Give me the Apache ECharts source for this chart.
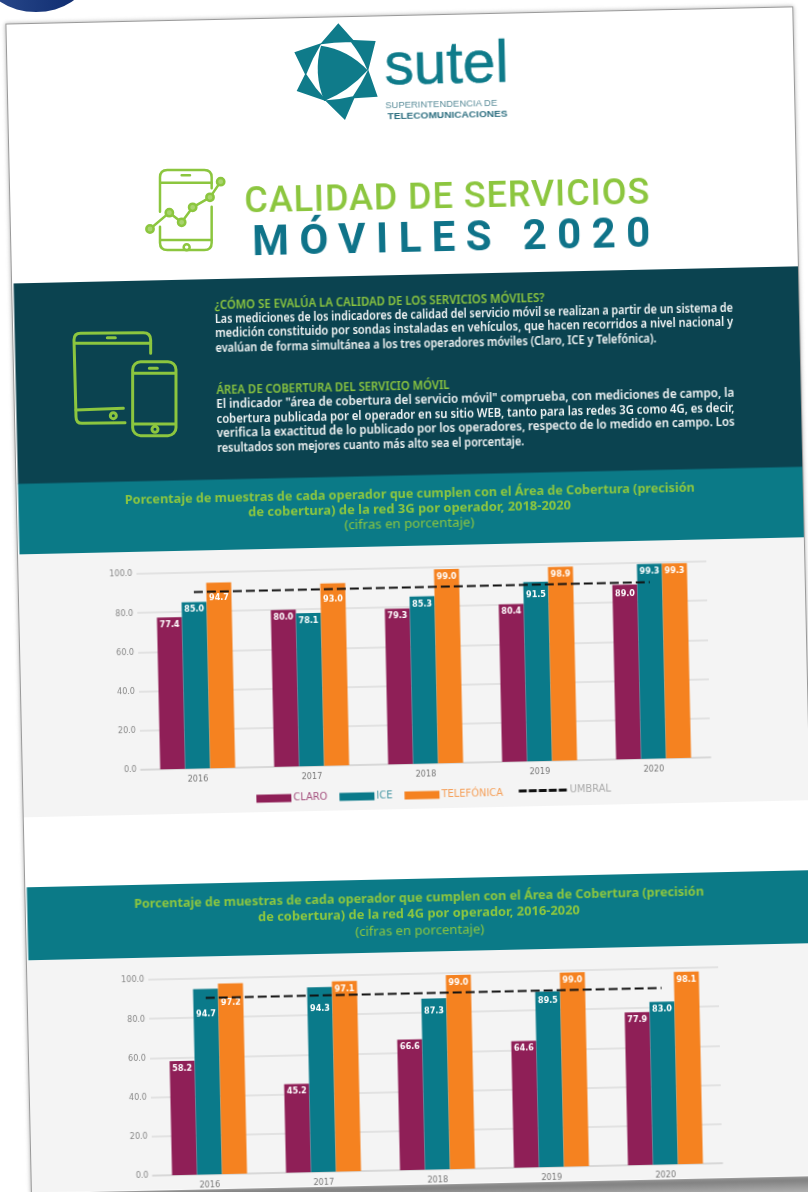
<!DOCTYPE html>
<html lang="es">
<head>
<meta charset="utf-8">
<title>Calidad de servicios móviles 2020</title>
<script src="https://cdn.jsdelivr.net/npm/echarts@6/dist/echarts.min.js"></script>
<style>
  html, body { margin: 0; padding: 0; background: #fff; overflow: hidden; width: 808px; height: 1192px; }
  /* the whole sheet sits slightly tilted in the photo */
  #sheet { position: absolute; left: 0; top: 0; width: 808px; height: 1192px; transform: rotate(-1.25deg); transform-origin: 404px 596px; filter: blur(0.4px); }
  #paper { position: absolute; left: 18px; top: 14.5px; width: 788px; height: 1171px; background: #fff; border: 1px solid #9a9a9a; box-sizing: border-box; box-shadow: 0 0 4px #aaa; }
  #art { position: absolute; left: 0; top: 0; }
  .chart { position: absolute; left: 0; width: 808px; }
  #chart3g { top: 546px; height: 262px; }
  #chart4g { top: 952px; height: 240px; }
  #overlay { position: absolute; left: 0; top: 0; }
  text { font-family: "Noto Sans", sans-serif; }
  .din { font-family: Roboto, sans-serif; font-weight: 500; }
  .head { fill: #8cc63f; font-size: 13px; font-weight: 600; }
  .body { fill: #f2f5f5; font-size: 12px; font-weight: 600; }
  .band { fill: #8cc63f; font-size: 13px; font-weight: 700; }
  .sub { fill: #8cc63f; font-size: 12.5px; font-weight: 400; }
</style>
</head>
<body>
<svg id="overlay" width="808" height="1192" style="z-index:0">
  <defs>
    <linearGradient id="blob" x1="0" x2="1"><stop offset="0" stop-color="#2a4a8c"/><stop offset="1" stop-color="#0d2a6e"/></linearGradient>
  </defs>
  <ellipse cx="36" cy="-22" rx="50" ry="34" fill="url(#blob)"/>
</svg>
<div id="sheet">
  <svg width="808" height="1220" style="position:absolute;left:0;top:0">
    <defs>
      <linearGradient id="under" x1="0" x2="0" y1="0" y2="1"><stop offset="0" stop-color="#6f6f6f"/><stop offset="1" stop-color="#c4c4c4"/></linearGradient>
    </defs>
    <rect x="19" y="1184" width="800" height="22" fill="url(#under)"/>
  </svg>
  <div id="paper"></div>
  <svg id="art" width="808" height="1192">
    <rect x="19" y="546" width="786" height="263" fill="#f4f4f4"/>
    <rect x="19" y="952" width="786" height="232.5" fill="#f4f4f4"/>
    <rect x="20.5" y="275" width="784.5" height="201" fill="#0b4350"/>
    <rect x="20.5" y="475.5" width="784.5" height="70.5" fill="#0b7a87"/>
    <rect x="20.5" y="879" width="784.5" height="73" fill="#0b7a87"/>

    <text x="396" y="84" style="font-family:'Liberation Sans',sans-serif;font-size:59px" fill="#0f7b8a" stroke="#0f7b8a" stroke-width="0.6" textLength="124" lengthAdjust="spacingAndGlyphs">sutel</text>
    <text x="396" y="108" style="font-family:'Liberation Sans',sans-serif;font-size:9.5px" fill="#5b8d9a" textLength="112" lengthAdjust="spacingAndGlyphs">SUPERINTENDENCIA DE</text>
    <text x="398" y="118.5" style="font-family:'Liberation Sans',sans-serif;font-size:9.5px;font-weight:700" fill="#2d6f80" textLength="120" lengthAdjust="spacingAndGlyphs">TELECOMUNICACIONES</text>

    <text class="din" x="253" y="209" font-size="36" fill="#8cc63f" textLength="405">CALIDAD DE SERVICIOS</text>
    <text class="din" x="260" y="252" font-size="42" style="font-weight:700" fill="#0f7389" textLength="398">MÓVILES 2020</text>

    <text class="head" x="221" y="304.5" textLength="330" lengthAdjust="spacingAndGlyphs">¿CÓMO SE EVALÚA LA CALIDAD DE LOS SERVICIOS MÓVILES?</text>
    <text class="body" x="221" y="318.5" textLength="518" lengthAdjust="spacingAndGlyphs">Las mediciones de los indicadores de calidad del servicio móvil se realizan a partir de un sistema de</text>
    <text class="body" x="221" y="333" textLength="518" lengthAdjust="spacingAndGlyphs">medición constituido por sondas instaladas en vehículos, que hacen recorridos a nivel nacional y</text>
    <text class="body" x="221" y="347.5" textLength="441" lengthAdjust="spacingAndGlyphs">evalúan de forma simultánea a los tres operadores móviles (Claro, ICE y Telefónica).</text>

    <text class="head" x="221" y="390" textLength="233" lengthAdjust="spacingAndGlyphs">ÁREA DE COBERTURA DEL SERVICIO MÓVIL</text>
    <text class="body" x="220.5" y="403.7" textLength="518" lengthAdjust="spacingAndGlyphs">El indicador "área de cobertura del servicio móvil" comprueba, con mediciones de campo, la</text>
    <text class="body" x="220.5" y="418.5" textLength="518" lengthAdjust="spacingAndGlyphs">cobertura publicada por el operador en su sitio WEB, tanto para las redes 3G como 4G, es decir,</text>
    <text class="body" x="220.5" y="433" textLength="518" lengthAdjust="spacingAndGlyphs">verifica la exactitud de lo publicado por los operadores, respecto de lo medido en campo. Los</text>
    <text class="body" x="220.5" y="447.5" textLength="307" lengthAdjust="spacingAndGlyphs">resultados son mejores cuanto más alto sea el porcentaje.</text>

    <text class="band" x="127" y="497.5" textLength="570" lengthAdjust="spacingAndGlyphs">Porcentaje de muestras de cada operador que cumplen con el Área de Cobertura (precisión</text>
    <text class="band" x="250" y="513" textLength="323" lengthAdjust="spacingAndGlyphs">de cobertura) de la red 3G por operador, 2018-2020</text>
    <text class="sub" x="346" y="528" textLength="130" lengthAdjust="spacingAndGlyphs">(cifras en porcentaje)</text>

    <text class="band" x="127.4" y="902" textLength="570" lengthAdjust="spacingAndGlyphs">Porcentaje de muestras de cada operador que cumplen con el Área de Cobertura (precisión</text>
    <text class="band" x="251" y="918" textLength="322" lengthAdjust="spacingAndGlyphs">de cobertura) de la red 4G por operador, 2016-2020</text>
    <text class="sub" x="348" y="934.5" textLength="129" lengthAdjust="spacingAndGlyphs">(cifras en porcentaje)</text>
  </svg>
  <div id="chart3g" class="chart"></div>
  <div id="chart4g" class="chart"></div>
</div>

<!-- logo and icons, read straight off the photo so not inside the tilted sheet -->
<svg id="icons" width="808" height="1192" style="position:absolute;left:0;top:0;pointer-events:none;filter:blur(0.4px)">
  <g transform="translate(285 15) scale(0.3333)">
    <path fill="#0f7b8a" d="M160 25 L205 75 L272 78 L250 165 L278 245 L208 250 L180 315 L122 258 L35 228 L60 178 L28 112 L108 85 Z"/>
    <path fill="#fff" d="M108 88 Q160 80 198 82 Q228 120 248 167 Q228 208 204 244 Q165 254 124 256 Q90 220 64 178 Q82 130 108 88 Z"/>
    <path fill="#0f7b8a" d="M108 92 Q190 104 248 166 Q190 230 118 258 Q84 175 108 92 Z"/>
  </g>
  <g transform="translate(140 160) scale(0.3333)" fill="none" stroke="#8cc63f" stroke-width="7.5" stroke-linecap="round" stroke-linejoin="round">
    <path d="M60 155 L60 52 Q60 30 82 30 L193 30 Q215 30 215 52 L215 85"/>
    <path d="M60 200 L60 248 Q60 270 82 270 L193 270 Q215 270 215 248 L215 140"/>
    <path d="M62 68 L215 68 M62 240 L215 240 M125 46 L150 46"/>
    <circle cx="140" cy="262" r="9"/>
    <path d="M30 207 L88 158 L125 187 L158 142 L210 112 L242 65"/>
    <g fill="#a9d46f">
      <circle cx="30" cy="207" r="11"/><circle cx="88" cy="158" r="11"/><circle cx="125" cy="187" r="11"/>
      <circle cx="158" cy="142" r="11"/><circle cx="210" cy="112" r="11"/><circle cx="242" cy="65" r="11"/>
    </g>
  </g>
  <g transform="translate(60 320) scale(0.3333)" fill="none" stroke="#8cc63f" stroke-width="9" stroke-linecap="round" stroke-linejoin="round">
    <path d="M272 100 L272 60 Q272 38 250 38 L62 40 Q42 40 42 60 L48 290 Q48 310 66 310 L195 308"/>
    <path d="M45 70 L272 70 M48 270 L190 265 M142 53 L166 53"/>
    <circle cx="160" cy="287" r="9"/>
    <rect x="218" y="125" width="130" height="222" rx="24"/>
    <path d="M220 160 L346 160 M220 312 L346 312 M268 145 L292 145"/>
    <circle cx="285" cy="328" r="9"/>
  </g>
</svg>

<script>
const years = ['2016', '2017', '2018', '2019', '2020']
const yTicks = [0, 20, 40, 60, 80, 100]

// red 3G
const claro3g = [77.4, 80.0, 79.3, 80.4, 89.0]
const ice3g = [85.0, 78.1, 85.3, 91.5, 99.3]
const telefonica3g = [94.7, 93.0, 99.0, 98.9, 99.3]
const umbral3g = [90, 90, 90, 90, 90]

// red 4G
const claro4g = [58.2, 45.2, 66.6, 64.6, 77.9]
const ice4g = [94.7, 94.3, 87.3, 89.5, 83.0]
const telefonica4g = [97.2, 97.1, 99.0, 99.0, 98.1]
const umbral4g = [90, 90, 90, 90, 90]

// labels pushed down so they clear the dashed line
const gaps3g = { claro: [3, 3, 3, 3, 5], ice: [3, 3, 3, 8, 3], telefonica: [11, 11, 3, 3, 3] }
const gaps4g = { claro: [3, 3, 3, 3, 3], ice: [21, 17, 8, 5, 3], telefonica: [15, 3, 3, 3, 3] }

const COLORS = { claro: '#8f1f57', ice: '#0a7a8a', telefonica: '#f58220' }
const NARROW = "'DejaVu Sans Condensed', Roboto, sans-serif"

function barSeries(name, values, gaps, color) {
  return {
    name,
    type: 'bar',
    barWidth: 25,
    barGap: 0,
    itemStyle: { color },
    label: {
      show: true,
      position: 'insideTop',
      color: '#fff',
      fontFamily: NARROW,
      fontWeight: 'bold',
      fontSize: 9,
      formatter: (p) => p.value.toFixed(1),
    },
    data: values.map((v, i) => ({ value: v, label: { distance: gaps[i] } })),
  }
}

function option(left, claro, ice, telefonica, umbral, gaps, withLegend) {
  const opt = {
    animation: false,
    grid: { left, top: 22, width: 570, height: 196 },
    xAxis: {
      type: 'category',
      data: years,
      axisTick: { show: false },
      axisLine: { lineStyle: { color: '#d4d4d4', width: 1.5 } },
      axisLabel: { color: '#777', fontFamily: NARROW, fontSize: 9, margin: 6 },
    },
    yAxis: {
      type: 'value',
      min: yTicks[0],
      max: yTicks[yTicks.length - 1],
      interval: 20,
      axisLine: { show: false },
      axisTick: { show: false },
      splitLine: { lineStyle: { color: '#dcdcdc', width: 1.5 } },
      axisLabel: { color: '#888', fontFamily: NARROW, fontSize: 9, margin: 4, formatter: (v) => v.toFixed(1) },
    },
    series: [
      barSeries('CLARO', claro, gaps.claro, COLORS.claro),
      barSeries('ICE', ice, gaps.ice, COLORS.ice),
      barSeries('TELEFÓNICA', telefonica, gaps.telefonica, COLORS.telefonica),
      {
        name: 'UMBRAL',
        type: 'line',
        symbol: 'none',
        z: 5,
        lineStyle: { color: '#111', width: 2, type: [9, 4] },
        itemStyle: { color: '#111' },
        data: umbral,
      },
    ],
  }
  if (withLegend) {
    opt.legend = [
      {
        left: 247,
        top: 239,
        itemWidth: 35,
        itemHeight: 8,
        itemGap: 12,
        icon: 'rect',
        textStyle: { fontFamily: NARROW, fontSize: 11, padding: [0, 0, 0, -3] },
        data: [
          { name: 'CLARO', textStyle: { color: '#a5527f' } },
          { name: 'ICE', textStyle: { color: '#4c9aa6' } },
          { name: 'TELEFÓNICA', textStyle: { color: '#f5a05a' } },
        ],
      },
      {
        left: 508,
        top: 237,
        itemWidth: 49,
        itemHeight: 8,
        itemStyle: { opacity: 0 },
        lineStyle: { color: '#111', width: 3, type: [8, 2] },
        textStyle: { fontFamily: NARROW, fontSize: 11, color: '#aaa', padding: [0, 0, 0, -3] },
        data: ['UMBRAL'],
      },
    ]
  }
  return opt
}

echarts.init(document.getElementById('chart3g')).setOption(option(137, claro3g, ice3g, telefonica3g, umbral3g, gaps3g, true))
echarts.init(document.getElementById('chart4g')).setOption(option(140, claro4g, ice4g, telefonica4g, umbral4g, gaps4g, false))
</script>
</body>
</html>
